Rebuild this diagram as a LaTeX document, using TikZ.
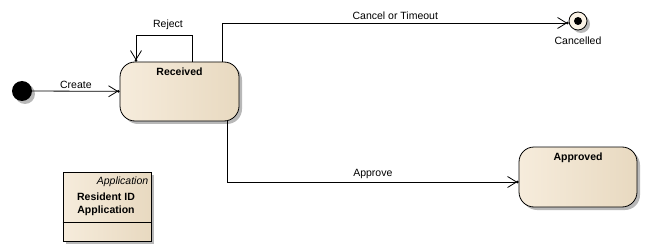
\documentclass[tikz,border=0pt]{standalone}
\usepackage{fontspec}
\setmainfont{Liberation Sans}
\usepackage{xcolor}
\usetikzlibrary{arrows.meta,shadows}

\definecolor{stateL}{RGB}{246,236,220}
\definecolor{stateM}{RGB}{251,243,230}
\definecolor{stateR}{RGB}{232,217,192}

\begin{document}
\begin{tikzpicture}[x=1pt,y=-1pt,
  font=\fontsize{10.5}{12}\selectfont,
  shade/.style={drop shadow={shadow xshift=3pt,shadow yshift=-3pt,fill=black!28,opacity=1}},
  cream/.style={left color=stateL,middle color=stateM,right color=stateR},
  state/.style={draw,line width=0.8pt,rounded corners=15pt,cream,
    shade,minimum width=119pt,minimum height=59pt,inner sep=0pt},
  title/.style={anchor=north,yshift=-3pt,font=\fontsize{10.5}{12}\selectfont\bfseries},
  trans/.style={draw,line width=0.8pt,
    -{Straight Barb[length=9pt,width=11pt,line width=0.8pt,sep=-1.3pt]Circle[length=2.6pt]}}]
\useasboundingbox (0,0) rectangle (650,251);

% states
\node[circle,fill=black,minimum size=20pt,inner sep=0pt,shade] (init) at (22,91) {};
\node[state,label={[title]north:Received}] (received) at (179.5,91.5) {};
\node[state,minimum width=118pt,minimum height=60pt,label={[title]north:Approved}] (approved) at (578,177) {};
\node[circle,draw,line width=0.8pt,fill=stateM,minimum size=18pt,inner sep=0pt,shade] (cancelled) at (578,21) {};
\fill (cancelled) circle (4pt);
\node[below=3pt] (cancelledlbl) at (cancelled.south) {Cancelled};

% transitions
\draw[trans] (init) -- node[above,yshift=-1pt] (create) {Create} (received);
\draw[trans] ([xshift=12.5pt]received.north) -- ++(0,-26) coordinate (rj)
  -| ([xshift=-43.5pt]received.north);
\node[above,yshift=2pt] (reject) at ([xshift=-24pt]rj) {Reject};
\draw[trans] ([xshift=42.5pt]received.north) |- node[pos=0.75,above] (cancel) {Cancel or Timeout} ([yshift=-2pt]cancelled.west);
\draw[trans] ([xshift=47.5pt]received.south) |- node[pos=0.75,above] (approve) {Approve} ([yshift=-5pt]approved.west);

% class box
\node[draw,line width=0.8pt,cream,shade,minimum width=88pt,minimum height=69pt] (appl) at (107,206.5) {};
\draw[line width=0.8pt] ([yshift=19pt]appl.south west) -- ([yshift=19pt]appl.south east);
\node[anchor=north east,inner sep=1pt,font=\fontsize{10.5}{12}\selectfont\itshape] (stereo)
  at ([xshift=-2pt,yshift=-4pt]appl.north east) {Application};
\node[align=center,font=\fontsize{10.5}{13}\selectfont\bfseries] (applname) at (106,204.5) {Resident ID\\Application};
\end{tikzpicture}
\end{document}
